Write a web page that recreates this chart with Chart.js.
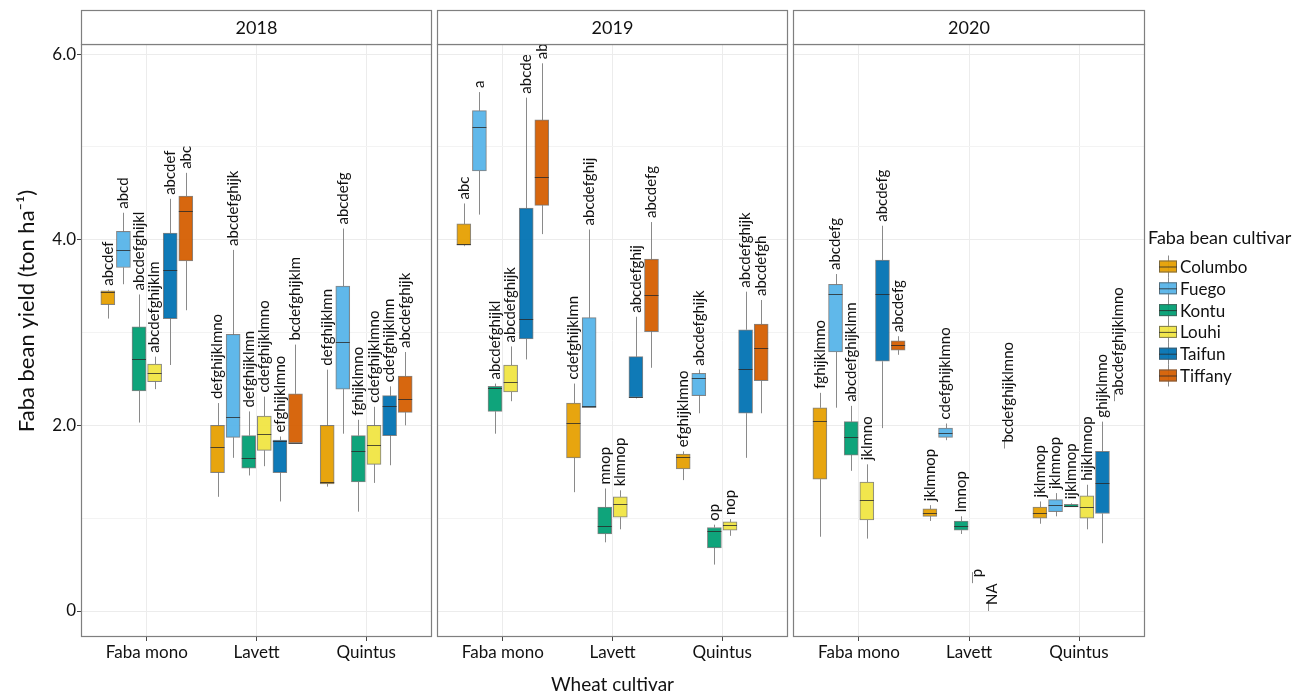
<!DOCTYPE html>
<html>
<head>
<meta charset="utf-8">
<script src="https://cdn.jsdelivr.net/npm/chart.js@4.4.0/dist/chart.umd.min.js"></script>
<style>
  html, body { margin: 0; padding: 0; background: #fff; }
  #wrap { position: relative; width: 1302px; height: 694px; overflow: hidden; }
  #wrap canvas { position: absolute; top: 0; }
</style>
</head>
<body>
<div id="wrap">
  <canvas id="c2018" width="433" height="694" style="left:0"></canvas>
  <canvas id="c2019" width="353" height="694" style="left:436px"></canvas>
  <canvas id="c2020" width="510" height="694" style="left:792px"></canvas>
</div>
<script>
// ---- data ----
const years = ['2018', '2019', '2020'];
const wheat = ['Faba mono', 'Lavett', 'Quintus'];
const cultivars = ['Columbo', 'Fuego', 'Kontu', 'Louhi', 'Taifun', 'Tiffany'];
const colors = ['#E69F00', '#56B4E9', '#009E73', '#F0E442', '#0072B2', '#D55E00'];
const yTicks = [0, 2, 4, 6];
const yTickText = ['0', '2.0', '4.0', '6.0'];
const yMinor = [1, 3, 5];

// box stats per cultivar (rows) and wheat cultivar (cols): [min, q1, median, q3, max]
const box2018 = [
  [[3.15, 3.30, 3.44, 3.45, 3.46], [1.23, 1.49, 1.77, 2.00, 2.24], [1.34, 1.37, 1.39, 2.00, 2.60]],
  [[3.52, 3.70, 3.89, 4.09, 4.29], [1.65, 1.87, 2.09, 2.98, 3.89], [1.91, 2.39, 2.90, 3.50, 4.12]],
  [[2.03, 2.37, 2.72, 3.06, 3.41], [1.46, 1.54, 1.65, 1.89, 2.15], [1.07, 1.39, 1.72, 1.89, 2.06]],
  [[2.39, 2.47, 2.56, 2.66, 2.74], [1.56, 1.73, 1.91, 2.10, 2.31], [1.38, 1.58, 1.79, 2.00, 2.20]],
  [[2.65, 3.15, 3.67, 4.07, 4.44], [1.18, 1.49, 1.83, 1.84, 1.88], [1.57, 1.89, 2.21, 2.32, 2.42]],
  [[3.24, 3.77, 4.31, 4.47, 4.72], [1.81, 1.81, 1.81, 2.34, 2.87], [2.00, 2.14, 2.28, 2.53, 2.79]]
];
const box2019 = [
  [[3.93, 3.94, 3.95, 4.17, 4.39], [1.28, 1.65, 2.02, 2.24, 2.45], [1.41, 1.53, 1.66, 1.69, 1.72]],
  [[4.27, 4.74, 5.21, 5.39, 5.59], [2.19, 2.19, 2.21, 3.16, 4.11], [2.13, 2.32, 2.51, 2.56, 2.60]],
  [[1.91, 2.15, 2.40, 2.42, 2.45], [0.74, 0.83, 0.92, 1.12, 1.32], [0.50, 0.68, 0.86, 0.90, 0.93]],
  [[2.26, 2.36, 2.47, 2.65, 2.85], [0.88, 1.01, 1.15, 1.23, 1.30], [0.81, 0.87, 0.93, 0.96, 0.99]],
  [[2.71, 2.93, 3.15, 4.34, 5.53], [2.29, 2.30, 2.31, 2.74, 3.17], [1.65, 2.13, 2.61, 3.03, 3.44]],
  [[4.06, 4.37, 4.68, 5.29, 5.90], [2.62, 3.01, 3.40, 3.79, 4.19], [2.13, 2.48, 2.83, 3.09, 3.35]]
];
const box2020 = [
  [[0.80, 1.42, 2.05, 2.19, 2.35], [0.97, 1.02, 1.06, 1.10, 1.14], [0.94, 1.00, 1.06, 1.12, 1.18]],
  [[2.19, 2.79, 3.41, 3.52, 3.63], [1.84, 1.87, 1.92, 1.97, 2.02], [1.02, 1.07, 1.14, 1.20, 1.27]],
  [[1.51, 1.68, 1.87, 2.04, 2.21], [0.83, 0.87, 0.92, 0.97, 1.02], [1.12, 1.12, 1.13, 1.15, 1.16]],
  [[0.78, 0.98, 1.20, 1.39, 1.58], null, [0.88, 1.00, 1.12, 1.24, 1.36]],
  [[1.97, 2.69, 3.41, 3.78, 4.15], null, [0.73, 1.05, 1.38, 1.72, 2.04]],
  [[2.76, 2.81, 2.87, 2.91, 2.96], null, null]
];

// letter groups above each box
const letters2018 = [
  ['abcdef', 'defghijklmno', 'defghijklmn'],
  ['abcd', 'abcdefghijk', 'abcdefg'],
  ['abcdefghijkl', 'defghijklmn', 'fghijklmno'],
  ['abcdefghijklm', 'cdefghijklmno', 'cdefghijklmno'],
  ['abcdef', 'efghijklmno', 'cdefghijklmn'],
  ['abc', 'bcdefghijklm', 'abcdefghijk']
];
const letters2019 = [
  ['abc', 'cdefghijklmn', 'efghijklmno'],
  ['a', 'abcdefghij', 'abcdefghijk'],
  ['abcdefghijkl', 'mnop', 'op'],
  ['abcdefghijk', 'klmnop', 'nop'],
  ['abcde', 'abcdefghij', 'abcdefghijk'],
  ['ab', 'abcdefg', 'abcdefgh']
];
const letters2020 = [
  ['fghijklmno', 'jklmnop', 'jklmnop'],
  ['abcdefg', 'cdefghijklmno', 'jklmnop'],
  ['abcdefghijklmn', 'lmnop', 'ijklmnop'],
  ['jklmno', 'p', 'hijklmnop'],
  ['abcdefg', 'NA', 'ghijklmno'],
  ['abcdefg', 'bcdefghijklmno', 'abcdefghijklmno']
];
// label heights for groups that have no box
const tags2020 = [
  [null, null, null], [null, null, null], [null, null, null],
  [null, 0.30, null], [null, 0.00, null], [null, 1.75, 2.26]
];

// ---- styling ----
const FONT = 'Lato, "Open Sans", sans-serif';
const INK = '#111';
const FILL_A = 0.94;
const dodge = cultivars.map((_, i) => (i - 2.5) * 0.1422);
const alpha = (hex, a) => {
  const n = parseInt(hex.slice(1), 16);
  return `rgba(${n >> 16},${(n >> 8) & 255},${n & 255},${a})`;
};

function drawBoxKey(ctx, cx, cy, col) {
  ctx.strokeStyle = '#8a8a8a';
  ctx.lineWidth = 1;
  ctx.beginPath(); ctx.moveTo(cx + 0.5, cy - 11); ctx.lineTo(cx + 0.5, cy + 11); ctx.stroke();
  ctx.fillStyle = alpha(col, FILL_A);
  ctx.fillRect(cx - 9, cy - 6, 18, 12);
  ctx.strokeStyle = 'rgba(80,80,80,0.7)';
  ctx.strokeRect(cx - 8.5, cy - 5.5, 17, 11);
  ctx.strokeStyle = 'rgba(40,40,40,0.8)';
  ctx.beginPath(); ctx.moveTo(cx - 9, cy + 0.5); ctx.lineTo(cx + 9, cy + 0.5); ctx.stroke();
}

const facet = {
  id: 'facet',
  beforeDatasetsDraw(chart, args, o) {
    const { ctx, scales: { x, y } } = chart;
    ctx.save();
    ctx.strokeStyle = '#8a8a8a';
    ctx.lineWidth = 1;
    o.box.forEach((row, i) => row.forEach((b, j) => {
      if (!b) return;
      const px = Math.round(x.getPixelForValue(j + 1 + dodge[i])) + 0.5;
      ctx.beginPath();
      ctx.moveTo(px, y.getPixelForValue(b[4])); ctx.lineTo(px, y.getPixelForValue(b[3]));
      ctx.moveTo(px, y.getPixelForValue(b[1])); ctx.lineTo(px, y.getPixelForValue(b[0]));
      ctx.stroke();
    }));
    ctx.restore();
  },
  afterDatasetsDraw(chart, args, o) {
    const { ctx, scales: { x, y } } = chart;
    ctx.save();
    // medians
    ctx.strokeStyle = 'rgba(40,40,40,0.8)';
    ctx.lineWidth = 1;
    o.box.forEach((row, i) => row.forEach((b, j) => {
      if (!b) return;
      const px = x.getPixelForValue(j + 1 + dodge[i]);
      const py = Math.round(y.getPixelForValue(b[2])) + 0.5;
      ctx.beginPath(); ctx.moveTo(px - 7, py); ctx.lineTo(px + 7, py); ctx.stroke();
    }));
    // letters
    ctx.fillStyle = INK;
    ctx.font = '15px ' + FONT;
    ctx.textAlign = 'left';
    ctx.textBaseline = 'middle';
    o.letters.forEach((row, i) => row.forEach((txt, j) => {
      const px = x.getPixelForValue(j + 1 + dodge[i]);
      const b = o.box[i][j];
      let py;
      if (b) {
        py = y.getPixelForValue(b[4]) - 4;
      } else {
        const v = o.tags[i][j];
        const base = y.getPixelForValue(v);
        ctx.strokeStyle = '#8a8a8a';
        ctx.beginPath(); ctx.moveTo(Math.round(px - 4.5) + 0.5, base); ctx.lineTo(Math.round(px - 4.5) + 0.5, base - 11); ctx.stroke();
        py = base - 6;
      }
      ctx.save();
      ctx.translate(px, py);
      ctx.rotate(-Math.PI / 2);
      ctx.fillText(txt, 0, 0);
      ctx.restore();
    }));
    ctx.restore();
  },
  afterDraw(chart, args, o) {
    const { ctx, chartArea: a } = chart;
    ctx.save();
    // panel border
    ctx.strokeStyle = '#7f7f7f';
    ctx.lineWidth = 1.2;
    ctx.strokeRect(a.left + 0.5, a.top + 0.5, a.right - a.left - 1, a.bottom - a.top - 1);
    // strip
    ctx.fillStyle = '#fff';
    ctx.fillRect(a.left, a.top - 34, a.right - a.left, 34);
    ctx.strokeRect(a.left + 0.5, a.top - 33.5, a.right - a.left - 1, 34);
    ctx.fillStyle = INK;
    ctx.font = '18px ' + FONT;
    ctx.textAlign = 'center';
    ctx.textBaseline = 'middle';
    ctx.fillText(o.year, (a.left + a.right) / 2, a.top - 16);
    // y axis title (first panel only)
    if (o.yTitle) {
      ctx.save();
      ctx.font = '22px ' + FONT;
      ctx.translate(27, 311);
      ctx.rotate(-Math.PI / 2);
      ctx.fillText('Faba bean yield (ton ha\u207B\u00B9)', 0, 0);
      ctx.restore();
    }
    // legend
    if (o.legend) {
      const lx = a.right + 8;
      ctx.textAlign = 'left';
      ctx.font = '18px ' + FONT;
      ctx.fillText('Faba bean cultivar', a.right + 3, 238);
      ctx.font = '17px ' + FONT;
      cultivars.forEach((c, i) => {
        const cy = 266.5 + i * 21.8;
        drawBoxKey(ctx, lx + 15, cy, colors[i]);
        ctx.fillStyle = INK;
        ctx.fillText(c, lx + 27, cy + 1);
      });
    }
    ctx.restore();
  }
};

function makeChart(id, year, box, letters, tags, opts) {
  const datasets = cultivars.map((c, i) => ({
    label: c,
    data: wheat.map((w, j) => box[i][j] ? { x: j + 1 + dodge[i], y: [box[i][j][1], box[i][j][3]] } : null).filter(Boolean),
    backgroundColor: alpha(colors[i], FILL_A),
    borderColor: 'rgba(80,80,80,0.7)',
    borderWidth: 1,
    borderSkipped: false,
    barThickness: 14,
    grouped: false
  }));
  return new Chart(document.getElementById(id), {
    type: 'bar',
    data: { datasets },
    plugins: [facet],
    options: {
      responsive: false,
      animation: false,
      layout: { padding: { left: opts.padL, right: opts.padR, top: 44, bottom: 0 } },
      plugins: {
        legend: { display: false },
        tooltip: { enabled: false },
        facet: { year, box, letters, tags, legend: opts.legend, yTitle: opts.yWidth > 0 }
      },
      scales: {
        x: {
          type: 'linear', min: 0.4, max: 3.6, offset: false,
          afterBuildTicks: s => { s.ticks = wheat.map((w, j) => ({ value: j + 1 })); },
          afterFit: s => { s.height = 57; },
          ticks: { callback: v => wheat[v - 1], font: { family: FONT, size: 17 }, color: INK, padding: 1, maxRotation: 0 },
          grid: { offset: false, color: '#ececec', tickColor: '#444', tickLength: 4 },
          border: { display: false },
          title: { display: !!opts.xTitle, text: 'Wheat cultivar', font: { family: FONT, size: 19, lineHeight: 1 }, color: INK, padding: 0 }
        },
        y: {
          min: -0.28, max: 6.108,
          afterBuildTicks: s => { s.ticks = yTicks.concat(yMinor).sort().map(v => ({ value: v })); },
          afterFit: s => { s.width = opts.yWidth; },
          ticks: {
            display: opts.yWidth > 0,
            callback: v => { const k = yTicks.indexOf(v); return k < 0 ? '' : yTickText[k]; },
            font: { family: FONT, size: 17 }, color: INK, padding: 1
          },
          grid: {
            color: c => yMinor.includes(c.tick.value) ? '#f3f3f3' : '#ececec',
            tickColor: c => yMinor.includes(c.tick.value) ? 'rgba(0,0,0,0)' : '#444',
            drawTicks: opts.yWidth > 0, tickLength: 4
          },
          border: { display: false }
        }
      }
    }
  });
}

makeChart('c2018', years[0], box2018, letters2018, null, { padL: 0, padR: 1, yWidth: 81, legend: false, xTitle: false });
makeChart('c2019', years[1], box2019, letters2019, null, { padL: 1, padR: 1, yWidth: 0, legend: false, xTitle: true });
makeChart('c2020', years[2], box2020, letters2020, tags2020, { padL: 1, padR: 157, yWidth: 0, legend: true, xTitle: false });
</script>
</body>
</html>
